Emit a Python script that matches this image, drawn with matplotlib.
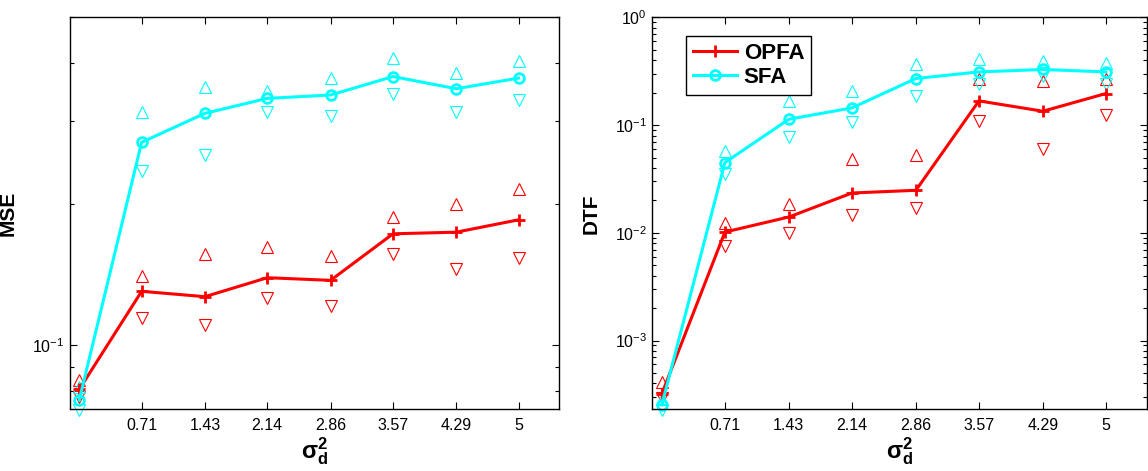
import matplotlib
matplotlib.use("Agg")
import matplotlib.pyplot as plt
from matplotlib.ticker import LogLocator, NullFormatter, FixedLocator

plt.rcParams['font.family'] = ['Liberation Sans', 'DejaVu Sans']
plt.rcParams['mathtext.fontset'] = 'custom'
plt.rcParams['mathtext.rm'] = 'Liberation Sans'
plt.rcParams['mathtext.it'] = 'Liberation Sans:italic'
plt.rcParams['mathtext.bf'] = 'Liberation Sans:bold'

x = [0, 0.71, 1.43, 2.14, 2.86, 3.57, 4.29, 5]
xtick_vals = [0.71, 1.43, 2.14, 2.86, 3.57, 4.29, 5]
xtick_labels = ['0.71', '1.43', '2.14', '2.86', '3.57', '4.29', '5']

# MSE panel
mse_opfa = [0.0805, 0.1303, 0.1269, 0.1393, 0.1375, 0.1728, 0.1742, 0.1851]
mse_opfa_hi = [0.0842, 0.1402, 0.1567, 0.1619, 0.1547, 0.1875, 0.2002, 0.2155]
mse_opfa_lo = [0.0775, 0.1145, 0.1103, 0.1261, 0.1210, 0.1567, 0.1453, 0.1537]
mse_sfa = [0.0764, 0.2708, 0.3122, 0.3360, 0.3416, 0.3740, 0.3523, 0.3712]
mse_sfa_hi = [0.0813, 0.3148, 0.3545, 0.3476, 0.3705, 0.4106, 0.3815, 0.4040]
mse_sfa_lo = [0.0727, 0.2349, 0.2545, 0.3148, 0.3086, 0.3432, 0.3148, 0.3332]

# DTF panel
dtf_opfa = [3.2e-4, 0.01017, 0.01403, 0.02344, 0.02483, 0.1679, 0.1346, 0.1966]
dtf_opfa_hi = [4.1e-4, 0.01233, 0.0184, 0.0489, 0.0525, 0.271, 0.2575, 0.271]
dtf_opfa_lo = [2.9e-4, 0.0075, 0.0099, 0.01476, 0.01701, 0.1094, 0.0601, 0.1255]
dtf_sfa = [2.53e-4, 0.0449, 0.1135, 0.1445, 0.271, 0.312, 0.3286, 0.312]
dtf_sfa_hi = [2.88e-4, 0.0572, 0.1668, 0.208, 0.3657, 0.4074, 0.3926, 0.3737]
dtf_sfa_lo = [2.28e-4, 0.035, 0.0777, 0.107, 0.1868, 0.24, 0.2847, 0.2435]

RED = '#ff0000'
CYAN = '#00ffff'

fig = plt.figure(figsize=(11.48, 4.71), dpi=100)
ax1 = fig.add_axes([0.0606, 0.131, 0.4264, 0.832])
ax2 = fig.add_axes([0.568, 0.131, 0.431, 0.832])


def draw(ax, opfa, opfa_hi, opfa_lo, sfa, sfa_hi, sfa_lo):
    tri = dict(linestyle='none', markersize=9, markerfacecolor='none',
               markeredgewidth=0.8, clip_on=False)
    ax.plot(x, opfa_hi, marker='^', color=RED, **tri)
    ax.plot(x, opfa_lo, marker='v', color=RED, **tri)
    ax.plot(x, sfa_hi, marker='^', color=CYAN, **tri)
    ax.plot(x, sfa_lo, marker='v', color=CYAN, **tri)
    l1, = ax.plot(x, opfa, color=RED, lw=2.2, marker='+', markersize=8,
                  markeredgewidth=2, label='OPFA', clip_on=False)
    l2, = ax.plot(x, sfa, color=CYAN, lw=2.2, marker='o', markersize=7,
                  markerfacecolor='none', markeredgewidth=2, label='SFA',
                  clip_on=False)
    ax.set_yscale('log')
    ax.set_xlim(-0.11, 5.46)
    ax.xaxis.set_major_locator(FixedLocator(xtick_vals))
    ax.set_xticklabels(xtick_labels)
    ax.yaxis.set_minor_formatter(NullFormatter())
    ax.tick_params(which='both', direction='in', top=True, right=True,
                   labelsize=11.5, width=0.8)
    ax.tick_params(which='major', length=5)
    ax.tick_params(axis='x', pad=6)
    ax.tick_params(which='minor', length=3)
    for s in ax.spines.values():
        s.set_linewidth(1.0)
    ax.set_xlabel(r'$\mathbf{\sigma_d^2}$', fontsize=17, labelpad=2)
    return l1, l2


draw(ax1, mse_opfa, mse_opfa_hi, mse_opfa_lo, mse_sfa, mse_sfa_hi, mse_sfa_lo)
ax1.set_ylim(0.073, 0.5)
ax1.set_ylabel('MSE', fontsize=15, fontweight='bold')
ax1.yaxis.set_label_coords(-0.107, 0.5)

draw(ax2, dtf_opfa, dtf_opfa_hi, dtf_opfa_lo, dtf_sfa, dtf_sfa_hi, dtf_sfa_lo)
ax2.set_ylim(2.3e-4, 1.0)
ax2.yaxis.set_major_locator(LogLocator(base=10, numticks=10))
ax2.yaxis.set_minor_locator(LogLocator(base=10, subs=range(2, 10), numticks=20))
ax2.yaxis.set_minor_formatter(NullFormatter())
ax2.set_ylabel('DTF', fontsize=15, fontweight='bold')
ax2.yaxis.set_label_coords(-0.103, 0.5)

leg = ax2.legend(loc='upper left', bbox_to_anchor=(0.0687, 0.953),
                 borderaxespad=0,
                 prop={'weight': 'bold', 'size': 16}, fancybox=False,
                 edgecolor='black', framealpha=1, handlelength=2.0,
                 borderpad=0.3, labelspacing=0.15, handletextpad=0.3)
leg.get_frame().set_linewidth(1.0)

fig.savefig('out.png', dpi=100)
